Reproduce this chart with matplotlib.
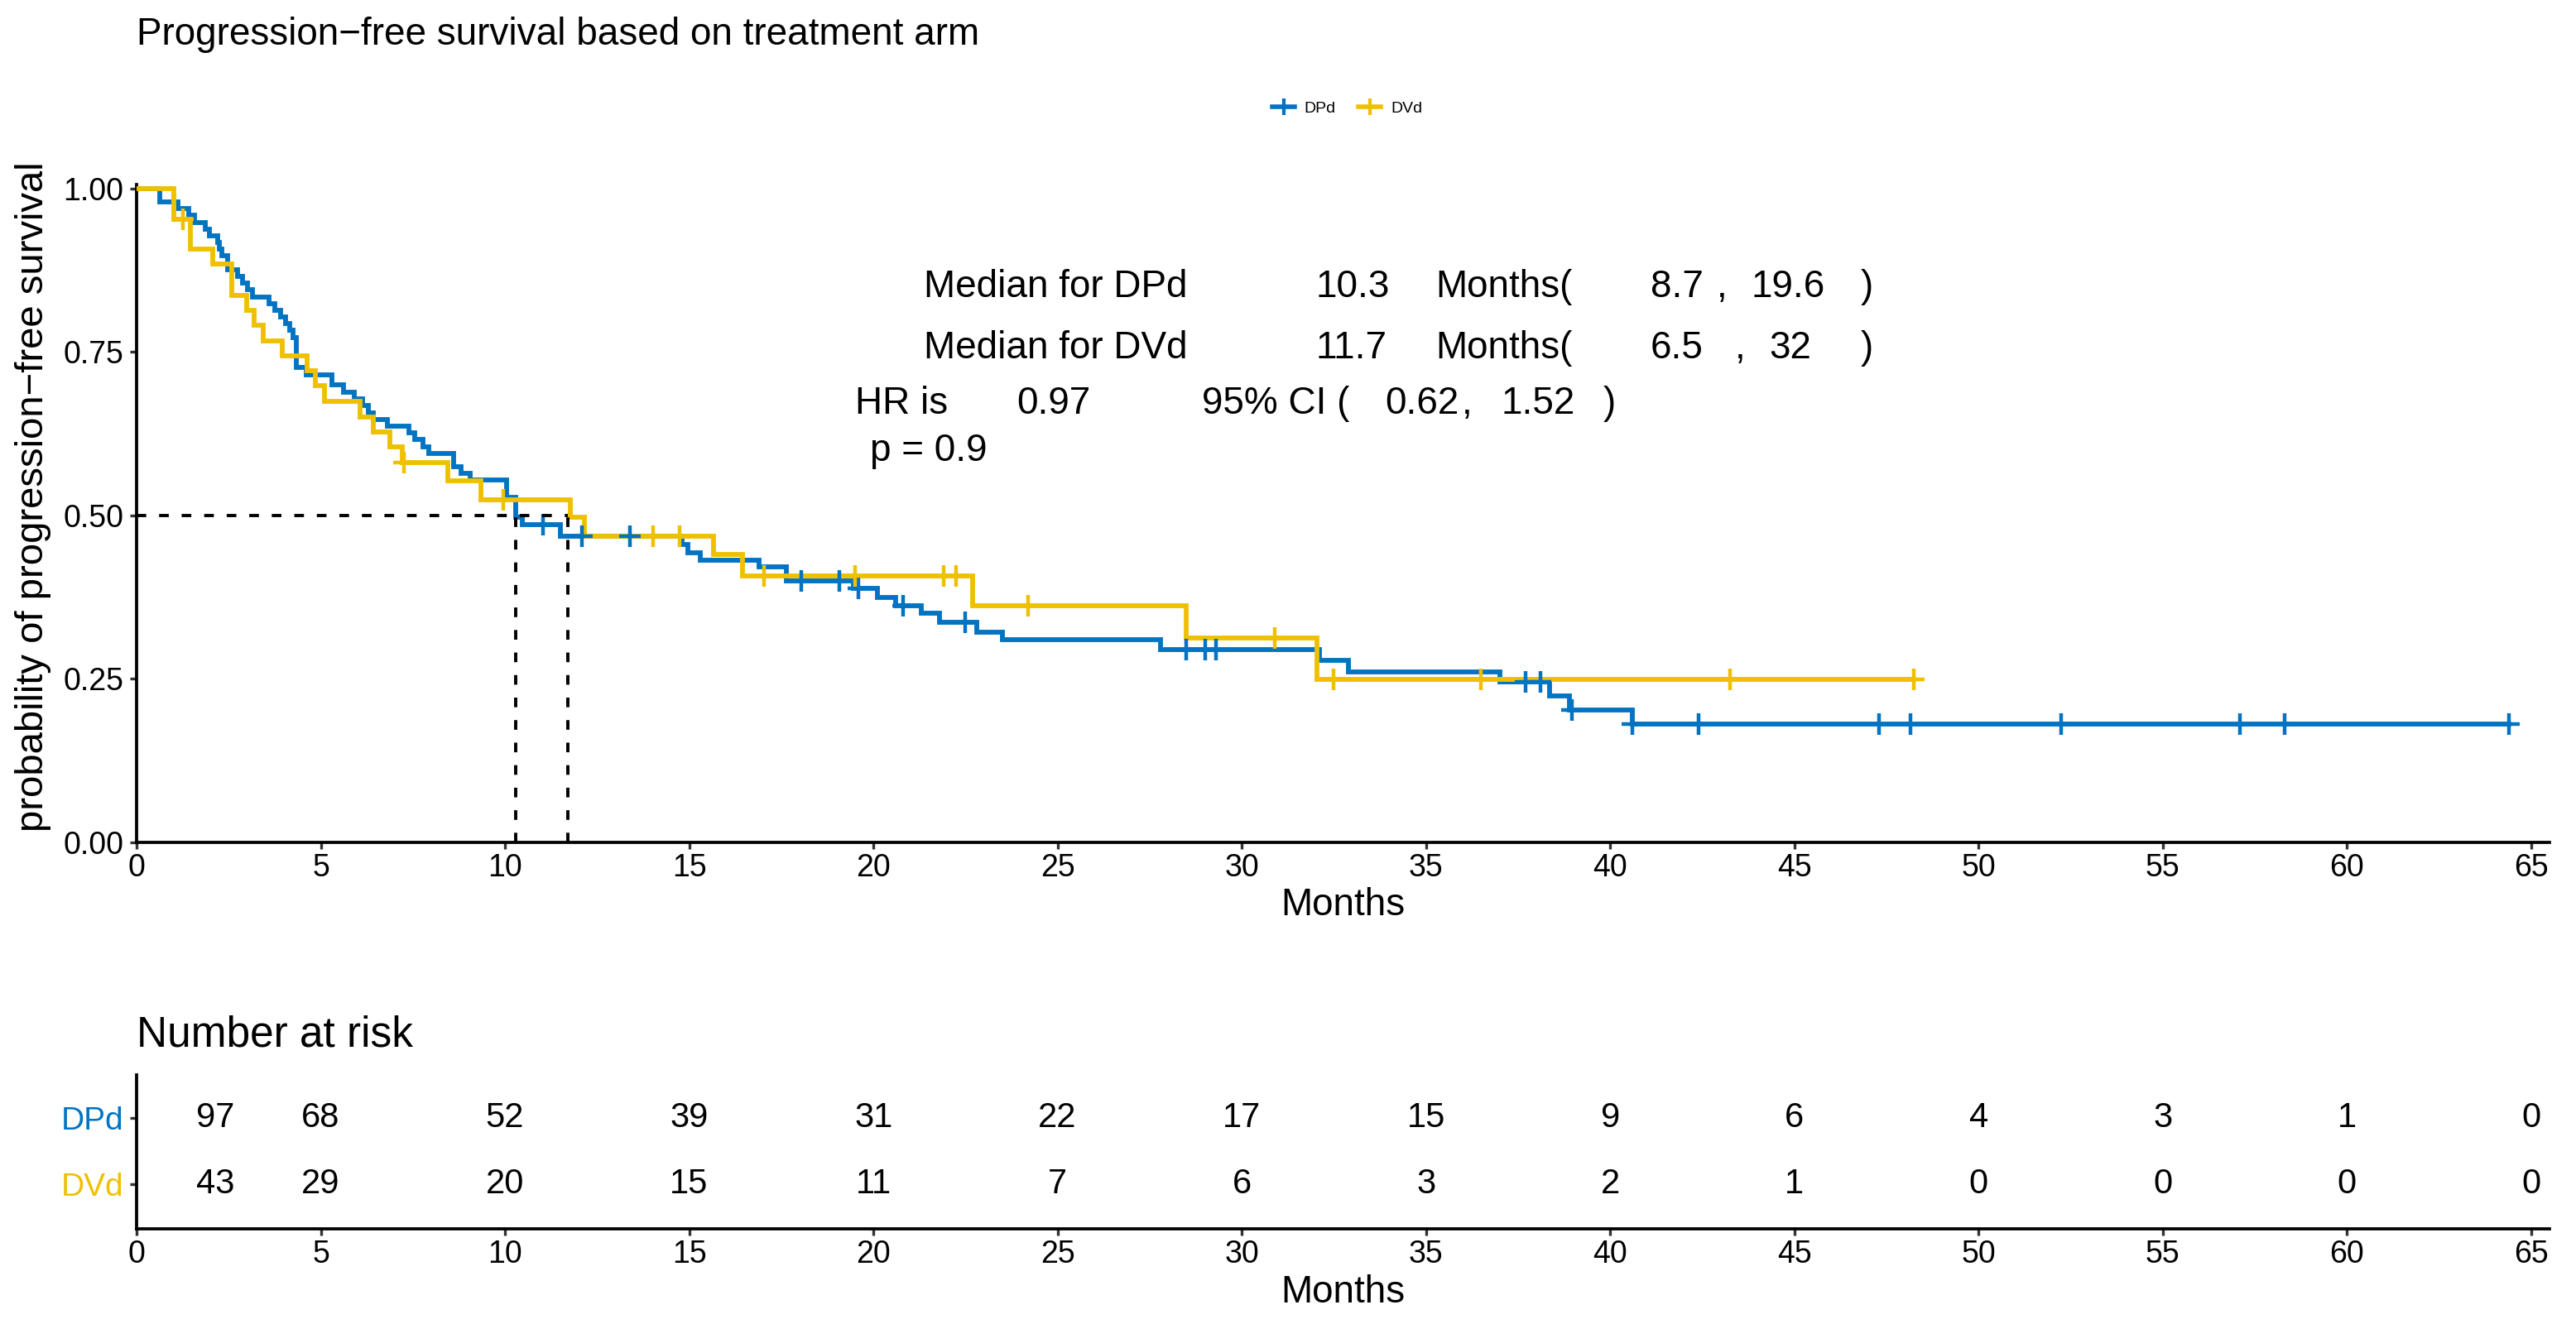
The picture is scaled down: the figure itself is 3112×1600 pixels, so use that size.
import numpy as np
import matplotlib
matplotlib.use('Agg')
import matplotlib.pyplot as plt
from matplotlib.lines import Line2D

plt.rcParams['font.family'] = ['Liberation Sans', 'DejaVu Sans']

# ---------------- data ----------------
groups = ['DPd', 'DVd']

dpd_time = [0, 0.64, 1.12, 1.42, 1.57, 1.87, 1.98, 2.20, 2.25, 2.32,
            2.47, 2.75, 2.88, 3.00, 3.14, 3.59, 3.75, 3.90, 4.05, 4.15,
            4.25, 4.34, 4.60, 5.31, 5.61, 5.90, 6.13, 6.30, 6.43, 6.80,
            7.40, 7.55, 7.78, 7.93, 8.60, 8.80, 9.05, 10.04, 10.30, 10.47,
            11.50, 14.80, 14.97, 15.30, 16.90, 17.65, 19.45, 20.10, 20.60, 21.30,
            21.80, 22.80, 23.50, 27.80, 32.10, 32.90, 37.00, 38.35, 38.90, 40.60]
dpd_surv = [1.0, 0.979, 0.969, 0.959, 0.948, 0.938, 0.928, 0.918, 0.907, 0.897,
            0.876, 0.866, 0.855, 0.845, 0.834, 0.824, 0.814, 0.803, 0.793, 0.783,
            0.772, 0.726, 0.715, 0.700, 0.689, 0.678, 0.668, 0.657, 0.647, 0.636,
            0.626, 0.616, 0.605, 0.595, 0.575, 0.564, 0.554, 0.528, 0.497, 0.486,
            0.468, 0.455, 0.443, 0.432, 0.421, 0.400, 0.388, 0.375, 0.362, 0.350,
            0.337, 0.322, 0.310, 0.295, 0.278, 0.261, 0.245, 0.224, 0.202, 0.181]
dpd_censor = [11.03, 12.1, 13.4, 18.04, 19.07, 19.6, 20.8, 22.5, 28.5, 29.0,
              29.3, 37.7, 38.1, 38.97, 40.6, 42.4, 47.3, 48.15, 52.25, 57.1,
              58.3, 64.4]

dvd_time = [0, 1.02, 1.47, 2.06, 2.58, 2.99, 3.20, 3.44, 3.96, 4.64,
            4.86, 5.09, 6.06, 6.43, 6.88, 7.22, 8.45, 9.35, 11.77, 12.16,
            15.66, 16.44, 22.70, 28.50, 32.05]
dvd_surv = [1.0, 0.953, 0.907, 0.884, 0.837, 0.814, 0.791, 0.767, 0.744, 0.721,
            0.698, 0.674, 0.651, 0.628, 0.605, 0.581, 0.553, 0.524, 0.497, 0.468,
            0.440, 0.407, 0.362, 0.312, 0.249]
dvd_censor = [1.25, 7.25, 9.95, 14.02, 14.75, 17.04, 19.5, 21.9, 22.25, 24.2,
              30.9, 32.5, 36.5, 43.26, 48.24]

medians = [10.3, 11.7]

risk_times = [2.15, 5, 10, 15, 20, 25, 30, 35, 40, 45, 50, 55, 60, 65]
dpd_risk = [97, 68, 52, 39, 31, 22, 17, 15, 9, 6, 4, 3, 1, 0]
dvd_risk = [43, 29, 20, 15, 11, 7, 6, 3, 2, 1, 0, 0, 0, 0]

x_ticks = list(range(0, 66, 5))
y_ticks = [0.0, 0.25, 0.50, 0.75, 1.00]
y_tick_labels = ['0.00', '0.25', '0.50', '0.75', '1.00']

# ---------------- style ----------------
BLUE = '#0073C2'
YELLOW = '#EFC000'
W, H = 3112, 1600
fig = plt.figure(figsize=(W / 100, H / 100), dpi=100)
fig.patch.set_facecolor('white')

L = 165 / W
AW = (3080 - 165) / W

ax = fig.add_axes([L, 1 - 1018 / H, AW, 795 / H])
ax.set_xlim(0, 65.5)
ax.set_ylim(0, 1.006)


def draw_curve(t, s, cens, color):
    t = np.asarray(t, float)
    s = np.asarray(s, float)
    cens = np.asarray(cens, float)
    end = cens.max()
    x = np.append(t, end)
    y = np.append(s, s[-1])
    ax.step(x, y, where='post', color=color, lw=4.2, zorder=3,
            solid_joinstyle='miter')
    idx = np.searchsorted(t, cens, side='right') - 1
    ax.plot(cens, s[idx], ls='none', marker='+', ms=19, mew=3.2,
            color=color, zorder=4)


draw_curve(dpd_time, dpd_surv, dpd_censor, BLUE)
draw_curve(dvd_time, dvd_surv, dvd_censor, YELLOW)

# median lines
dash = (0, (3, 4))
ax.plot([0, max(medians)], [0.5, 0.5], color='black', lw=2.8, ls=dash, zorder=5)
for m in medians:
    ax.plot([m, m], [0, 0.5], color='black', lw=2.8, ls=dash, zorder=5)

for sp in ['top', 'right']:
    ax.spines[sp].set_visible(False)
for sp in ['left', 'bottom']:
    ax.spines[sp].set_linewidth(2.7)
    ax.spines[sp].set_color('black')
ax.set_xticks(x_ticks)
ax.set_yticks(y_ticks)
ax.set_yticklabels(y_tick_labels)
ax.tick_params(axis='both', length=5.5, width=2.4, labelsize=27, color='#333333')
ax.tick_params(axis='x', pad=4)
ax.tick_params(axis='y', pad=6)

# annotations
fs_ann = 33
rows = [
    (0.849, [(21.36, 'Median for DPd'), (32.01, '10.3'), (35.27, 'Months('),
             (41.10, '8.7'), (42.89, ','), (43.83, '19.6'), (46.81, ')')]),
    (0.756, [(21.36, 'Median for DVd'), (32.01, '11.7'), (35.27, 'Months('),
             (41.10, '6.5'), (43.38, ','), (44.32, '32'), (46.81, ')')]),
    (0.671, [(19.50, 'HR is'), (23.90, '0.97'), (28.93, '95% CI ('),
             (33.88, '0.62'), (35.98, ','), (37.05, '1.52'), (39.81, ')')]),
    (0.598, [(19.90, 'p = 0.9')]),
]
for yv, segs in rows:
    for xv, txt in segs:
        ax.text(xv, yv, txt, ha='left', va='center', fontsize=fs_ann, color='black')

# titles and labels
fig.text(L, 1 - 54 / H, 'Progression\u2212free survival based on treatment arm',
         ha='left', va='baseline', fontsize=33)
fig.text(40 / W, 1 - 600 / H, 'probability of progression\u2212free survival',
         rotation=90, ha='center', va='center', fontsize=34)
fig.text(1622 / W, 1 - 1094 / H, 'Months', ha='center', va='center', fontsize=33)

# legend
handles = [Line2D([], [], color=BLUE, lw=4, marker='+', ms=15, mew=3),
           Line2D([], [], color=YELLOW, lw=4, marker='+', ms=15, mew=3)]
fig.legend(handles, groups, loc='center', bbox_to_anchor=(0.523, 1 - 131 / H),
           ncol=2, frameon=False, fontsize=14, handlelength=1.4,
           columnspacing=1.4, handletextpad=0.6)

# ---------------- risk table ----------------
rax = fig.add_axes([L, 1 - 1485 / H, AW, (1485 - 1299) / H])
rax.set_xlim(0, 65.5)
rax.set_ylim(0.325, 2.65)
for t, a, b in zip(risk_times, dpd_risk, dvd_risk):
    rax.text(t, 2, str(a), ha='center', va='center', fontsize=30)
    rax.text(t, 1, str(b), ha='center', va='center', fontsize=30)
for sp in ['top', 'right']:
    rax.spines[sp].set_visible(False)
for sp in ['left', 'bottom']:
    rax.spines[sp].set_linewidth(2.7)
    rax.spines[sp].set_color('black')
rax.set_xticks(x_ticks)
rax.set_yticks([2, 1])
rax.set_yticklabels(groups)
for lab, c in zip(rax.get_yticklabels(), [BLUE, YELLOW]):
    lab.set_color(c)
rax.tick_params(axis='both', length=5.5, width=2.4, labelsize=27, color='#333333')
rax.tick_params(axis='x', pad=4)
rax.tick_params(axis='y', pad=6, labelsize=28)

fig.text(L, 1 - 1251 / H, 'Number at risk', ha='left', va='center', fontsize=37)
fig.text(1622 / W, 1 - 1562 / H, 'Months', ha='center', va='center', fontsize=33)

fig.savefig('out.png', dpi=100, facecolor='white')
